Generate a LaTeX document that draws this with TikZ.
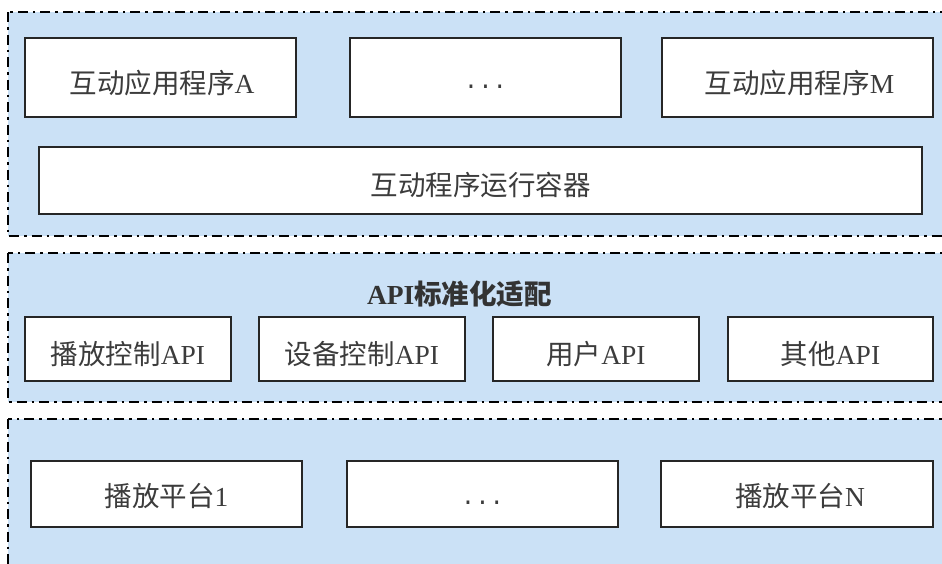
\documentclass[tikz,border=0pt]{standalone}
\usepackage{fontspec}
\setmainfont{Liberation Serif}
\newfontfamily\cjk{Noto Sans CJK SC}
\newfontfamily\monof{Liberation Mono}
\definecolor{layerblue}{RGB}{203,225,246}
\definecolor{txt}{RGB}{60,60,60}
\begin{document}
\begin{tikzpicture}[x=1pt,y=-1pt,
  layer/.style={fill=layerblue, draw=black, line width=2.3pt, dash pattern=on 10pt off 5pt on 2.5pt off 5pt},
  box/.style={draw=black!85, line width=1.2pt, fill=white, inner sep=0pt, outer sep=0pt},
  lbl/.style={inner sep=0pt, text=txt, font=\fontsize{27.5}{32}\selectfont},
  dots/.style={inner sep=0pt, text=txt, font=\fontsize{24}{30}\monof},
  title/.style={inner sep=0pt, text=black!80, font=\fontsize{27.5}{32}\selectfont\bfseries}
]
\useasboundingbox (0,0) rectangle (942,563);
\clip (0,0) rectangle (942,563);
% layers
\draw[layer] (8,12) rectangle (975,236);
\draw[layer] (8,253) rectangle (975,402);
\draw[layer] (8,419) rectangle (975,590);
% layer 1
\node[box, minimum width=271pt, minimum height=79pt] (appA) at (160.5,77.5) {};
\node[lbl] (tA) at (162,83) {{\cjk 互动应用程序}A};
\node[box, minimum width=271pt, minimum height=79pt] (appDots) at (485.5,77.5) {};
\node[dots] (tD1) at (485.5,87) {...};
\node[box, minimum width=271pt, minimum height=79pt] (appM) at (797.5,77.5) {};
\node[lbl] (tM) at (799.5,83) {{\cjk 互动应用程序}M};
\node[box, minimum width=883pt, minimum height=67pt] (container) at (480.5,180.5) {};
\node[lbl] (tC) at (480.5,185) {\cjk 互动程序运行容器};
% layer 2
\node[title] (apititle) at (459.5,294) {API{\cjk\bfseries 标准化适配}};
\node[box, minimum width=206pt, minimum height=64pt] (api1) at (128,349) {};
\node[lbl] (t1) at (128,354) {{\cjk 播放控制}API};
\node[box, minimum width=206pt, minimum height=64pt] (api2) at (362,349) {};
\node[lbl] (t2) at (362,354) {{\cjk 设备控制}API};
\node[box, minimum width=206pt, minimum height=64pt] (api3) at (596,349) {};
\node[lbl] (t3) at (596,354) {{\cjk 用户}API};
\node[box, minimum width=205pt, minimum height=64pt] (api4) at (830.5,349) {};
\node[lbl] (t4) at (830.5,354) {{\cjk 其他}API};
% layer 3
\node[box, minimum width=271pt, minimum height=66pt] (plat1) at (166.5,494) {};
\node[lbl] (p1) at (166.5,496) {{\cjk 播放平台}1};
\node[box, minimum width=271pt, minimum height=66pt] (platDots) at (482.5,494) {};
\node[dots] (pD) at (482.5,503) {...};
\node[box, minimum width=272pt, minimum height=66pt] (platN) at (797,494) {};
\node[lbl] (pN) at (800,496) {{\cjk 播放平台}N};
\end{tikzpicture}
\end{document}
